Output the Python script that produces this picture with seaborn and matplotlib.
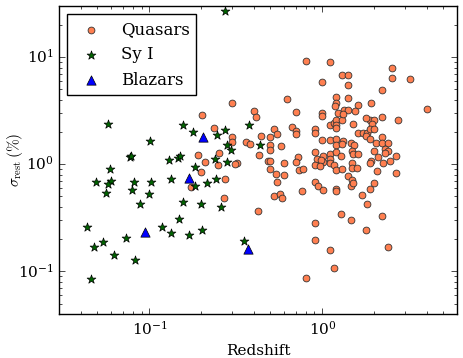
import matplotlib
matplotlib.use("Agg")
import matplotlib.pyplot as plt
import seaborn as sns

# ------------------------------------------------------------------
# Data (redshift, sigma_rest in %)
# ------------------------------------------------------------------
quasar_z = [
    1.107, 1.163, 1.206, 1.206, 1.206, 1.299, 1.504, 0.902, 0.902, 1.60,
    1.706, 1.814, 1.79, 1.888, 1.983, 1.923, 1.888, 1.983, 1.888, 2.03,
    2.21, 2.21, 2.40, 2.72, 1.0, 1.102, 1.206, 1.206, 1.311, 1.306,
    1.459, 1.525, 1.484, 1.504, 1.596, 2.00, 2.11, 2.30, 2.39, 2.30,
    2.65, 2.455, 2.23, 1.905, 1.888, 0.902, 0.935, 0.906, 1.008, 1.008,
    0.977, 1.107, 1.107, 1.107, 1.168, 1.206, 1.206, 1.299, 1.282, 1.484,
    1.492, 1.575, 2.073, 2.67, 1.407, 1.492, 1.473, 0.902, 0.939, 1.004,
    1.206, 1.206, 1.983, 1.873, 1.69, 1.498, 1.80, 1.277, 1.473, 2.21,
    1.776, 0.902, 0.902, 1.102, 2.41, 1.163, 0.971, 1.102, 2.51, 1.306,
    1.402, 2.51, 3.21, 1.0, 1.402, 2.21, 1.206, 1.402, 1.898, 1.206,
    1.183, 1.334, 1.415, 1.60, 4.01, 1.0, 1.0, 1.227, 1.311, 1.545,
    2.198, 1.776, 0.80, 0.299, 0.621, 0.2005, 0.40, 0.412, 0.703, 0.2375,
    0.524, 0.664, 0.301, 0.301, 0.364, 0.384, 0.443, 0.498, 0.543, 0.703,
    0.707, 0.431, 0.4995, 0.498, 0.575, 0.252, 0.2106, 0.191, 0.248, 0.1996,
    0.1747, 0.32, 0.312, 0.485, 0.50, 0.4995, 0.538, 0.603, 0.60, 0.719,
    0.70, 0.729, 0.772, 0.546, 0.526, 0.567, 0.581, 0.759, 0.2704, 0.274,
    0.4245, 0.803,
]
quasar_sigma = [
    2.33, 2.42, 2.58, 2.31, 2.16, 2.59, 2.38, 2.14, 1.94, 1.96,
    1.95, 1.94, 1.84, 2.58, 2.58, 2.36, 2.12, 2.12, 1.71, 1.58,
    1.78, 1.58, 1.58, 2.59, 1.676, 1.687, 1.72, 1.515, 1.64, 1.53,
    1.58, 1.505, 1.331, 1.259, 1.259, 1.323, 1.17, 1.38, 1.331, 1.275,
    1.196, 1.073, 1.02, 1.083, 1.037, 1.295, 1.114, 0.985, 1.206, 1.05,
    1.097, 1.259, 1.13, 1.028, 0.979, 1.314, 0.885, 0.904, 1.196, 1.037,
    0.918, 0.918, 0.866, 0.829, 0.777, 0.709, 0.632, 0.689, 0.632, 0.575,
    0.584, 0.563, 0.664, 0.588, 0.516, 0.664, 0.429, 0.346, 0.30, 0.332,
    0.2416, 0.281, 0.196, 0.158, 0.1687, 0.1074, 0.964, 9.04, 7.89, 6.79,
    6.79, 6.32, 6.23, 5.80, 5.44, 4.95, 4.23, 4.14, 3.77, 3.77,
    3.51, 3.24, 3.22, 3.61, 3.29, 3.00, 2.83, 3.04, 2.93, 3.13,
    2.75, 2.71, 9.18, 3.74, 4.05, 2.89, 3.15, 2.77, 3.08, 2.18,
    2.13, 2.23, 1.788, 1.606, 1.616, 1.538, 1.84, 1.80, 1.92, 2.06,
    1.92, 1.214, 1.515, 1.372, 1.483, 1.267, 1.055, 1.208, 0.983, 0.842,
    0.612, 1.037, 1.004, 1.073, 1.078, 0.912, 0.81, 0.789, 1.03, 1.175,
    1.044, 0.888, 0.908, 0.676, 0.504, 0.53, 0.486, 0.565, 0.479, 0.732,
    0.364, 0.0866,
]

sy1_z = [
    0.275, 0.0579, 0.157, 0.1788, 0.2733, 0.2455, 0.374, 0.101, 0.2825, 0.296,
    0.4347, 0.0769, 0.0784, 0.1459, 0.1502, 0.1297, 0.2384, 0.0589, 0.1826, 0.2813,
    0.049, 0.0597, 0.0575, 0.0809, 0.1017, 0.1329, 0.2423, 0.2149, 0.1843, 0.056,
    0.0798, 0.0997, 0.0879, 0.1566, 0.1983, 0.2609, 0.1489, 0.0438, 0.1175, 0.054,
    0.048, 0.0731, 0.1338, 0.1685, 0.2005, 0.0628, 0.0827, 0.0458, 0.35,
]
sy1_sigma = [
    27.1, 2.40, 2.31, 2.00, 2.07, 1.87, 2.34, 1.66, 1.515, 1.366,
    1.505, 1.175, 1.20, 1.145, 1.196, 1.106, 1.13, 0.908, 0.944, 1.044,
    0.686, 0.694, 0.657, 0.679, 0.676, 0.724, 0.732, 0.672, 0.620, 0.536,
    0.571, 0.524, 0.423, 0.444, 0.423, 0.396, 0.308, 0.258, 0.259, 0.1895,
    0.170, 0.2048, 0.228, 0.220, 0.243, 0.142, 0.1275, 0.0855, 0.1936,
]

blazar_z = [0.203, 0.1685, 0.0937, 0.369]
blazar_sigma = [1.788, 0.740, 0.235, 0.1606]

# ------------------------------------------------------------------
# Figure
# ------------------------------------------------------------------
plt.style.use("classic")
plt.rcParams["font.family"] = ["DejaVu Serif"]
plt.rcParams["mathtext.fontset"] = "cm"

fig = plt.figure(figsize=(4.63, 3.58), dpi=100, facecolor="white")
ax = fig.add_axes([0.1274, 0.1229, 0.8596, 0.8603])

sns.scatterplot(x=quasar_z, y=quasar_sigma, ax=ax, marker="o", s=24,
                color="#FF7F50", edgecolor="#333333", linewidth=0.6,
                label="Quasars", zorder=2)
sns.scatterplot(x=sy1_z, y=sy1_sigma, ax=ax, marker="*", s=44,
                color="#006400", edgecolor="black", linewidth=0.5,
                label="Sy I", zorder=3)
sns.scatterplot(x=blazar_z, y=blazar_sigma, ax=ax, marker="^", s=45,
                color="#0000FF", edgecolor="black", linewidth=0.5,
                label="Blazars", zorder=4)

ax.set_xscale("log")
ax.set_yscale("log")
ax.set_xlim(0.03, 6)
ax.set_ylim(0.04, 30)

ax.set_xlabel("Redshift", fontsize=11)
ax.set_ylabel(r"$\sigma_{\rm rest}\,(\%)$", fontsize=11)
ax.yaxis.set_label_coords(-0.085, 0.5)
ax.tick_params(labelsize=11)

leg = ax.legend(loc="upper left", scatterpoints=1, fontsize=12,
                frameon=True, fancybox=False)
leg.get_frame().set_edgecolor("black")

fig.savefig("out.png", dpi=100, facecolor="white")
